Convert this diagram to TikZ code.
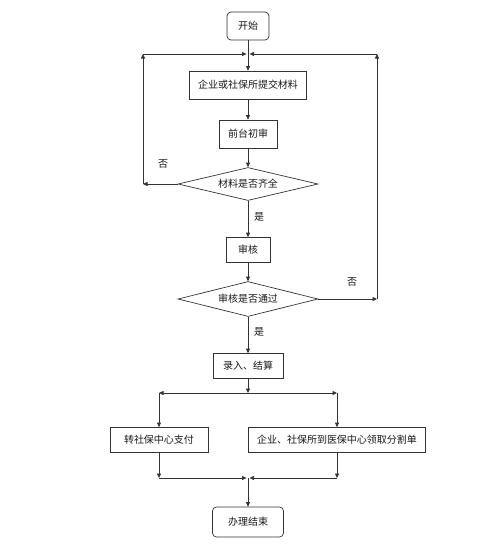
\documentclass[tikz,border=0pt]{standalone}
\usepackage{fontspec}
\newfontfamily\cjk{Noto Sans CJK SC}
\usetikzlibrary{shapes.geometric,arrows.meta}
\begin{document}
\begin{tikzpicture}[x=1pt,y=-1pt,
  every node/.style={font=\cjk\fontsize{10}{12}\selectfont, text=black!90},
  box/.style={draw=black!80, line width=0.7pt, fill=white, rectangle, inner sep=0pt},
  rbox/.style={box, rounded corners=4pt},
  dia/.style={draw=black!80, line width=0.7pt, fill=white, diamond, aspect=4.3, inner sep=0pt, minimum width=140pt, minimum height=33pt},
  arr/.style={draw=black!80, line width=0.7pt, -{Triangle[length=4.5pt,width=4pt]}},
  lab/.style={font=\cjk\fontsize{10}{12}\selectfont}]
\useasboundingbox[fill=white] (0,0) rectangle (500,550);
% nodes
\node[rbox, minimum width=42pt, minimum height=28pt] (start) at (248,26) {开始};
\node[box, minimum width=117pt, minimum height=28pt] (b1) at (248,85) {企业或社保所提交材料};
\node[box, minimum width=58pt, minimum height=28pt] (b2) at (248,134) {前台初审};
\node[dia] (d1) at (248,184) {材料是否齐全};
\node[box, minimum width=44pt, minimum height=25pt] (b3) at (248,250) {审核};
\node[dia, minimum height=35pt] (d2) at (248,299) {审核是否通过};
\node[box, minimum width=70pt, minimum height=25pt] (b4) at (248,366) {录入、结算};
\node[box, minimum width=98pt, minimum height=25pt] (b5) at (159,440) {转社保中心支付};
\node[box, minimum width=177pt, minimum height=25pt] (b6) at (337,440) {企业、社保所到医保中心领取分割单};
\node[rbox, minimum width=71pt, minimum height=30pt] (end) at (248,522) {办理结束};
% labels
\node[lab] (n1) at (163,164) {否};
\node[lab] (y1) at (259,217) {是};
\node[lab] (n2) at (352,282) {否};
\node[lab] (y2) at (259,332) {是};
% coordinates
\coordinate (T) at (248,54);
\coordinate (L1) at (143,184);
\coordinate (L2) at (143,54);
\coordinate (R1) at (377,299);
\coordinate (R2) at (377,54);
\coordinate (M) at (248,393);
\coordinate (BL) at (159,393);
\coordinate (BR) at (337,393);
\coordinate (J) at (248,478);
\coordinate (JL) at (159,478);
\coordinate (JR) at (337,478);
% connectors
\draw[arr] (start.south) -- (b1.north);
\draw[arr] (b1.south) -- (b2.north);
\draw[arr] (b2.south) -- (d1.north);
\draw[arr] (d1.south) -- (b3.north);
\draw[arr] (b3.south) -- (d2.north);
\draw[arr] (d2.south) -- (b4.north);
\draw[arr] (d1.west) -- (L1);
\draw[arr] (L1) -- (L2);
\draw[arr] (L2) -- ([xshift=-1.5pt]T);
\draw[arr] (d2.east) -- (R1);
\draw[arr] (R1) -- (R2);
\draw[arr] (R2) -- ([xshift=1.5pt]T);
\draw[arr] (b4.south) -- (M);
\draw[arr] (M) -- (BL);
\draw[arr] (M) -- (BR);
\draw[arr] (BL) -- (b5.north);
\draw[arr] (BR) -- (b6.north);
\draw[arr] (b5.south) -- (JL);
\draw[arr] (b6.south) -- (JR);
\draw[arr] (JL) -- ([xshift=-1.5pt]J);
\draw[arr] (JR) -- ([xshift=1.5pt]J);
\draw[arr] (J) -- (end.north);
\end{tikzpicture}
\end{document}
